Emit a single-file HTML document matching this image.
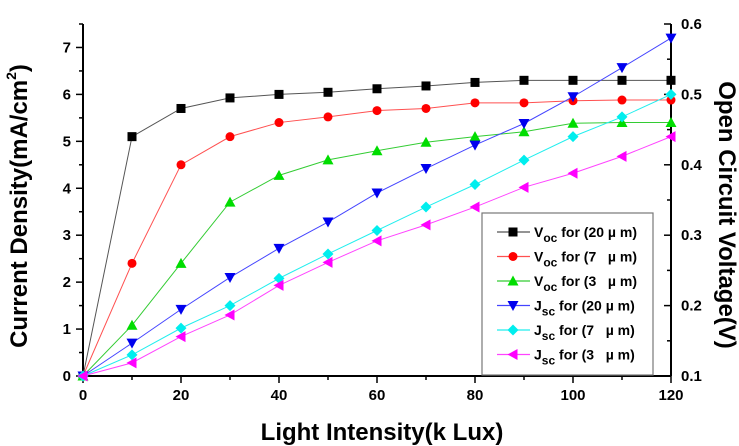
<!DOCTYPE html>
<html><head><meta charset="utf-8"><style>
body{margin:0;background:#fff;}
svg{display:block;font-family:"Liberation Sans",Arial,sans-serif;font-weight:bold;}
.pre{white-space:pre;}
</style></head><body>
<svg id="c" width="739" height="446" viewBox="0 0 739 446"></svg>
<script>
const xVals=[0,10,20,30,40,50,60,70,80,90,100,110,120];
const vocSeries20=[0.1,0.44,0.48,0.495,0.5,0.503,0.508,0.512,0.517,0.52,0.52,0.52,0.52];
const vocSeries7=[0.1,0.26,0.4,0.44,0.46,0.468,0.477,0.48,0.488,0.488,0.491,0.492,0.492];
const vocSeries3=[0.1,0.172,0.26,0.347,0.385,0.407,0.42,0.432,0.44,0.447,0.459,0.46,0.46];
const jscSeries20=[0,0.7,1.42,2.1,2.72,3.28,3.9,4.42,4.92,5.38,5.95,6.57,7.2];
const jscSeries7=[0,0.45,1.02,1.5,2.08,2.6,3.1,3.6,4.08,4.6,5.1,5.52,6.0];
const jscSeries3=[0,0.28,0.84,1.3,1.93,2.42,2.88,3.22,3.6,4.02,4.32,4.68,5.1];
const xTicks=[0,20,40,60,80,100,120];
const leftTicks=[0,1,2,3,4,5,6,7];
const rightTicks=[0.1,0.2,0.3,0.4,0.5,0.6];

const svg=document.getElementById('c');
const NS='http://www.w3.org/2000/svg';
const L=83,R=671,T=24,B=376;
const sx=v=>L+(v/120)*(R-L);
const syL=v=>B-(v/7.5)*(B-T);
const syR=v=>B-((v-0.1)/0.5)*(B-T);
function mk(tag,attrs,parent){const e=document.createElementNS(NS,tag);for(const k in attrs)e.setAttribute(k,attrs[k]);(parent||svg).appendChild(e);return e;}

let ax=mk('g',{});


mk('line',{x1:L,y1:T,x2:L,y2:B,stroke:'#000','stroke-width':2},ax);
mk('line',{x1:R,y1:T,x2:R,y2:B,stroke:'#000','stroke-width':2},ax);
mk('line',{x1:L,y1:B,x2:R,y2:B,stroke:'#000','stroke-width':2},ax);
for(let v=0;v<=120;v+=10){const big=v%20===0;mk('line',{x1:sx(v),y1:B,x2:sx(v),y2:B+(big?7:4),stroke:'#000','stroke-width':1.5},ax);}
xTicks.forEach(v=>{const t=mk('text',{x:sx(v),y:B+24,'font-size':15,'text-anchor':'middle'},ax);t.textContent=v;

});
for(let v=0;v<=7.5;v+=0.5){const big=Number.isInteger(v);mk('line',{x1:L,y1:syL(v),x2:L-(big?7:4),y2:syL(v),stroke:'#000','stroke-width':1.5},ax);}
leftTicks.forEach(v=>{const t=mk('text',{x:L-12,y:syL(v)+5,'font-size':15,'text-anchor':'end'},ax);t.textContent=v;

});
for(let i=0;i<=10;i++){const v=0.1+i*0.05;const big=i%2===0;mk('line',{x1:R,y1:syR(v),x2:R-(big?7:4),y2:syR(v),stroke:'#000','stroke-width':1.5},ax);}
rightTicks.forEach(v=>{const t=mk('text',{x:R+10,y:syR(v)+5,'font-size':15,'text-anchor':'start'},ax);t.textContent=v.toFixed(1);

});

let xt=mk('text',{x:382,y:440,'font-size':24,'text-anchor':'middle'});xt.textContent='Light Intensity(k Lux)';


let lt=mk('text',{x:0,y:0,'font-size':24,'text-anchor':'middle',transform:'translate(27,206) rotate(-90)'});
lt.innerHTML='Current Density(mA/cm<tspan dy="-11" font-size="14">2</tspan><tspan dy="11">)</tspan>';


let rt=mk('text',{x:0,y:0,'font-size':24,'text-anchor':'middle',transform:'translate(719,215) rotate(90)'});rt.textContent='Open Circuit Voltage(V)';



function marker(type,x,y,color,g){
  if(type==='sq')return mk('rect',{x:x-4.5,y:y-4.5,width:9,height:9,fill:color},g);
  if(type==='ci')return mk('circle',{cx:x,cy:y,r:4.5,fill:color},g);
  if(type==='up')return mk('polygon',{points:`${x},${y-5.5} ${x+5.5},${y+4.5} ${x-5.5},${y+4.5}`,fill:color},g);
  if(type==='dn')return mk('polygon',{points:`${x},${y+5.5} ${x+5.5},${y-4.5} ${x-5.5},${y-4.5}`,fill:color},g);
  if(type==='di')return mk('polygon',{points:`${x},${y-5.5} ${x+5.5},${y} ${x},${y+5.5} ${x-5.5},${y}`,fill:color},g);
  if(type==='lt')return mk('polygon',{points:`${x-5.5},${y} ${x+4.5},${y-5.5} ${x+4.5},${y+5.5}`,fill:color},g);
}
const series=[
 {name:'voc-20um',data:vocSeries20,sy:syR,line:'#555',col:'#000',m:'sq',lab:['V','oc',' for (20 \u00b5 m)']},
 {name:'voc-7um',data:vocSeries7,sy:syR,line:'#ff5050',col:'#f00',m:'ci',lab:['V','oc',' for (7   \u00b5 m)']},
 {name:'voc-3um',data:vocSeries3,sy:syR,line:'#3c3',col:'#0d0',m:'up',lab:['V','oc',' for (3   \u00b5 m)']},
 {name:'jsc-20um',data:jscSeries20,sy:syL,line:'#44f',col:'#00e',m:'dn',lab:['J','sc',' for (20 \u00b5 m)']},
 {name:'jsc-7um',data:jscSeries7,sy:syL,line:'#2ee',col:'#0ee',m:'di',lab:['J','sc',' for (7   \u00b5 m)']},
 {name:'jsc-3um',data:jscSeries3,sy:syL,line:'#f4f',col:'#f0f',m:'lt',lab:['J','sc',' for (3   \u00b5 m)']},
];
series.forEach(s=>{
  const g=mk('g',{});
  
  
  mk('polyline',{points:s.data.map((v,i)=>sx(xVals[i])+','+s.sy(v)).join(' '),fill:'none',stroke:s.line,'stroke-width':1},g);
  s.data.forEach((v,i)=>{const p=marker(s.m,sx(xVals[i]),s.sy(v),s.col,g);
    
    });
});

const lg=mk('g',{});


mk('rect',{x:482,y:213,width:171,height:162,fill:'#fff',stroke:'#777','stroke-width':1.2},lg);
series.forEach((s,i)=>{
  const y=232+i*24.5;
  const e=mk('g',{},lg);
  
  
  mk('line',{x1:497,y1:y,x2:530,y2:y,stroke:s.line,'stroke-width':1.2},e);
  marker(s.m,513,y,s.col,e);
  const t=mk('text',{x:534,y:y+5,'font-size':14,'class':'pre'},e);
  t.innerHTML=`${s.lab[0]}<tspan dy="5" font-size="12">${s.lab[1]}</tspan><tspan dy="-5">${s.lab[2]}</tspan>`;
});
</script>
</body></html>
